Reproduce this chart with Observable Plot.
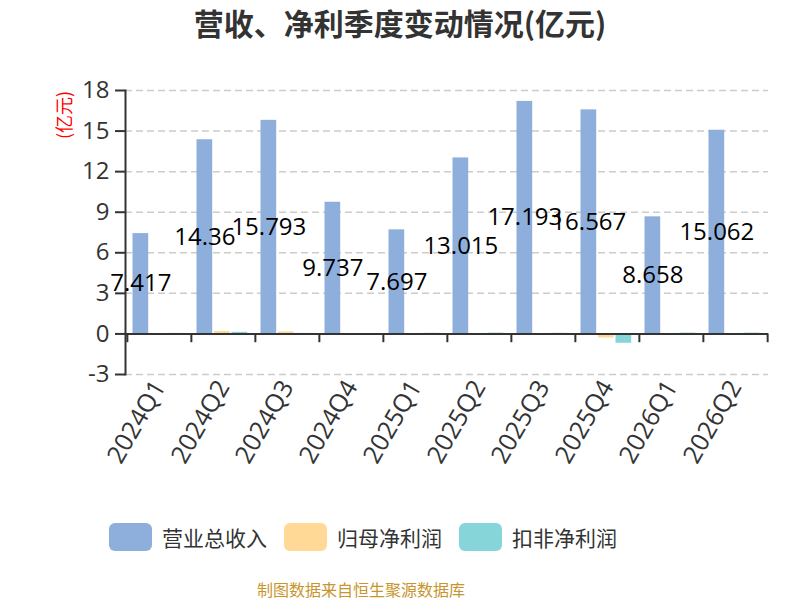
<!DOCTYPE html>
<html><head><meta charset="utf-8">
<script src="https://cdn.jsdelivr.net/npm/d3@7"></script>
<script src="https://cdn.jsdelivr.net/npm/@observablehq/plot@0.6"></script>
<style>
body{margin:0;background:#fff;font-family:"Open Sans","Noto Sans CJK SC",sans-serif}
#wrap{position:relative;width:800px;height:600px;overflow:hidden}
#title{position:absolute;top:0;left:0;width:800px;text-align:center;font-size:30px;font-weight:bold;color:#333;line-height:44px;font-family:"Noto Sans CJK SC",sans-serif}
#chart{position:absolute;top:0;left:0}
#unit{position:absolute;left:63px;top:115px;transform:translate(-50%,-50%) rotate(-90deg);color:#ff0000;font-size:18px;white-space:nowrap;font-family:"Noto Sans CJK SC",sans-serif}
#legend{position:absolute;top:522px;left:109px;display:flex;align-items:center;font-size:21px;color:#333;font-family:"Noto Sans CJK SC",sans-serif}
.item{display:flex;align-items:center;margin-right:17px}
.sw{width:43px;height:28px;border-radius:6px;margin-right:10px}
#source{position:absolute;top:580px;left:0;width:722px;text-align:center;font-size:16px;line-height:18px;color:#c8952c;font-family:"Noto Sans CJK SC",sans-serif}
</style></head>
<body>
<div id="wrap">
  <div id="chart"></div>
  <div id="title">营收、净利季度变动情况(亿元)</div>
  <div id="unit">(亿元)</div>
  <div id="legend"></div>
  <div id="source">制图数据来自恒生聚源数据库</div>
</div>
<script>
const quarters = ["2024Q1","2024Q2","2024Q3","2024Q4","2025Q1","2025Q2","2025Q3","2025Q4","2026Q1","2026Q2"];
const revenue = [7.417,14.36,15.793,9.737,7.697,13.015,17.193,16.567,8.658,15.062];
const netProfit = [0.01,0.18,0.15,0,-0.06,-0.05,-0.05,-0.3,-0.05,-0.05];
const deductedProfit = [0.04,0.12,0.04,0,0.05,0.06,0.05,-0.69,0.06,0.06];
const seriesNames = ["营业总收入","归母净利润","扣非净利润"];
const seriesColors = ["#8eaedc","#ffd995","#86d5d9"];
const yTicks = [-3,0,3,6,9,12,15,18];

const allSeries = [revenue, netProfit, deductedProfit];
const tables = allSeries.map(vals => quarters.map((q,i) => ({q, v: vals[i]})));
const insets = [[5.5,42.8],[23,25.3],[40.5,7.8]];
const band = 643/quarters.length;

const font = '"Open Sans","Noto Sans CJK SC",sans-serif';
const chart = Plot.plot({
  width: 800, height: 480,
  marginTop: 90, marginLeft: 125, marginRight: 32, marginBottom: 106,
  style: {fontFamily: font, fontSize: "20px", color: "#333", background: "transparent"},
  x: {domain: quarters, padding: 0, label: null},
  y: {domain: [-3, 18], label: null},
  marks: [
    Plot.gridY(yTicks, {stroke: "#cccccc", strokeOpacity: 1, strokeWidth: 1.5, strokeDasharray: "7,4"}),
    ...tables.map((t, k) => Plot.barY(t, {x: "q", y: "v", fill: seriesColors[k], insetLeft: insets[k][0], insetRight: insets[k][1]})),
    Plot.ruleY([0], {stroke: "#333", strokeWidth: 2}),
    Plot.frame({anchor: "left", stroke: "#333", strokeWidth: 2}),
    Plot.ruleX(quarters, {x: d => d, y1: 0, y2: -0.65, dx: -band/2, stroke: "#333", strokeWidth: 2}),
    Plot.ruleX(quarters.slice(-1), {x: d => d, y1: 0, y2: -0.65, dx: band/2, stroke: "#333", strokeWidth: 2}),
    Plot.axisY(yTicks, {tickSize: 10, tickPadding: 6, fontSize: 24, stroke: "#333", strokeWidth: 2, label: null, fill: "#333", tickFormat: d => String(d)}),
    Plot.axisX({tickRotate: -60, tickSize: 0, tickPadding: 8, fontSize: 25, label: null, fill: "#333"}),
    Plot.text(tables[0], {x: "q", y: d => d.v / 2, text: d => String(d.v), dx: -(band/2 - insets[0][0] - (band - insets[0][0] - insets[0][1]) / 2), fontSize: 24, fill: "#000"})
  ]
});
document.getElementById("chart").appendChild(chart);

const legend = document.getElementById("legend");
seriesNames.forEach((name, k) => {
  const it = document.createElement("div"); it.className = "item";
  const sw = document.createElement("div"); sw.className = "sw"; sw.style.background = seriesColors[k];
  const tx = document.createElement("span"); tx.textContent = name;
  it.appendChild(sw); it.appendChild(tx); legend.appendChild(it);
});
</script>
</body></html>
